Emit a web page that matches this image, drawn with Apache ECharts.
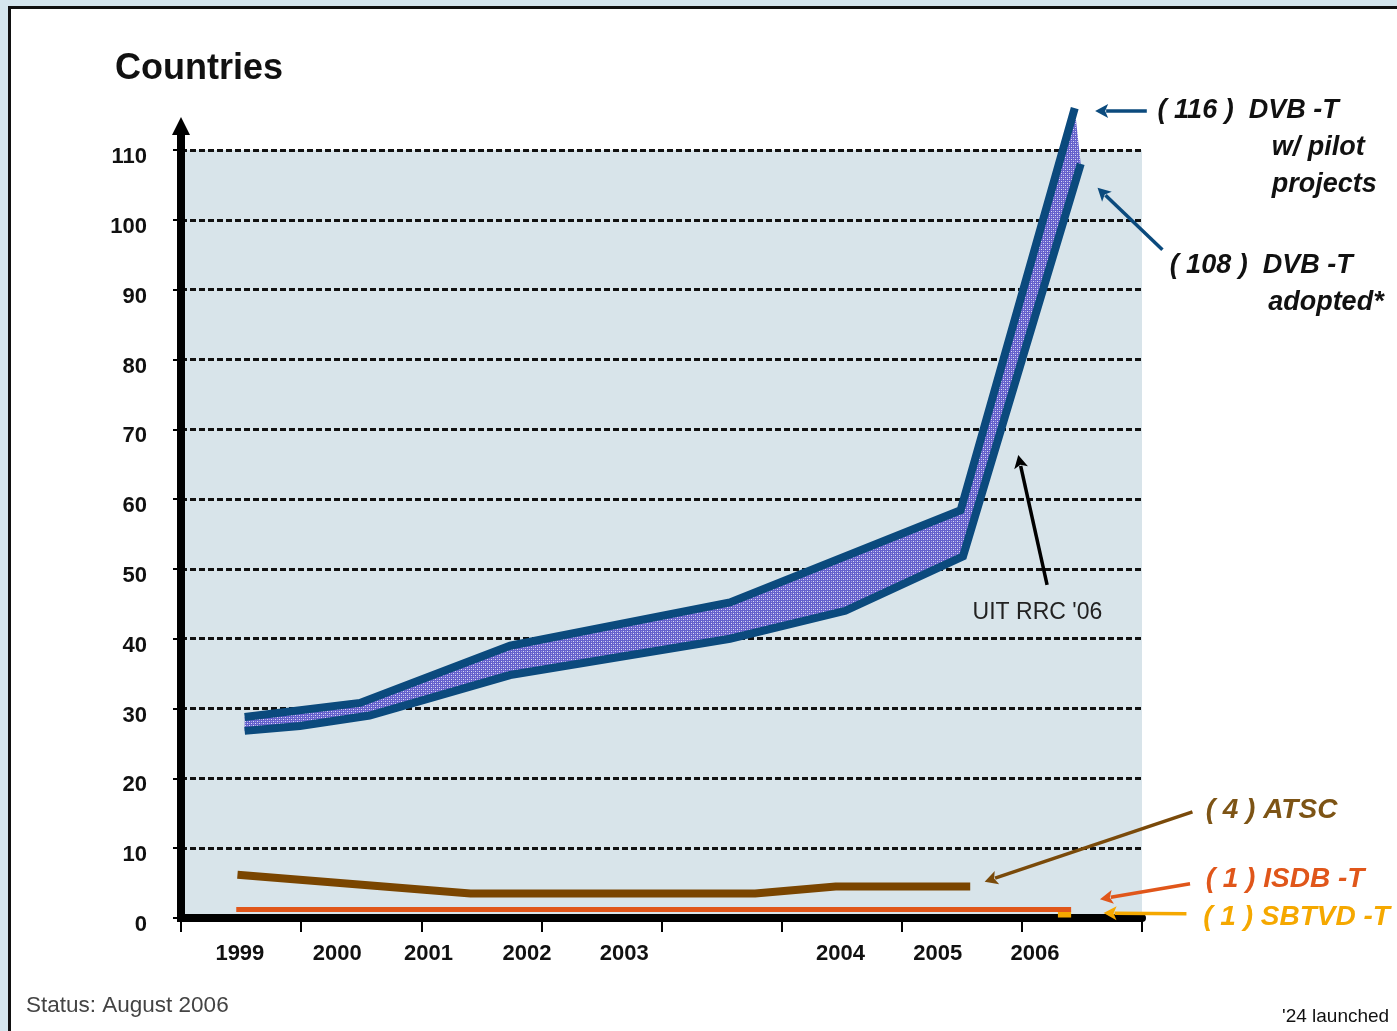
<!DOCTYPE html>
<html><head><meta charset="utf-8">
<script src="https://cdn.jsdelivr.net/npm/echarts@6/dist/echarts.min.js"></script>
<style>
html,body{margin:0;padding:0;background:#d5e6ee;width:1397px;height:1031px;overflow:hidden;}
#frame{position:absolute;left:8px;top:6px;width:1500px;height:1100px;background:#fff;border:3px solid #111;}
#main{position:absolute;left:0;top:0;width:1397px;height:1031px;}
</style></head><body>
<div id="frame"></div><div id="main"></div>
<script>
// ---- data (x in period slots along the axis, y in number of countries) ----
const yearLabels = ['1999','2000','2001','2002','2003','2004','2005','2006'];
const yearPos    = [0.49, 1.30, 2.06, 2.88, 3.69, 5.49, 6.30, 7.11];
const yMin = 0, yMax = 110, yStep = 10;
const xMin = 0, xMax = 8, xStep = 1;

const dvbPilotX   = [0.53, 1.49, 2.74, 4.57, 6.49, 7.44];
const dvbPilotY   = [28.8, 30.8, 39.0, 45.2, 58.4, 116];
const dvbAdoptedX = [0.53, 0.99, 1.57, 2.74, 4.57, 5.53, 6.51, 7.49];
const dvbAdoptedY = [26.8, 27.5, 29.0, 34.8, 40.0, 44.0, 51.8, 108];
const atscX  = [0.47, 2.41, 4.78, 5.45, 6.57];
const atscY  = [6.2, 3.5, 3.5, 4.5, 4.5];
const isdbX  = [0.46, 7.41];
const isdbY  = [1.2, 1.2];
const sbtvdX = [7.30, 7.41];
const sbtvdY = [0.5, 0.5];

// annotation anchors (data units)
const annoArrows = [
  {from:[8.04,115.6], to:[7.61,115.6], color:'#0b4a7d'},
  {from:[8.17,95.7],  to:[7.63,104.6], color:'#0b4a7d'},
  {from:[7.21,47.7],  to:[6.97,66.3],  color:'#000000'},
  {from:[8.42,15.2],  to:[6.69,5.2],   color:'#7a4a0a'},
  {from:[8.40,4.9],   to:[7.65,2.7],   color:'#e0561a'},
  {from:[8.37,0.6],   to:[7.68,0.7],   color:'#f5a800'}
];
const annoTexts = [
  {text:'( 116 )  DVB -T',  at:[8.13,115.6], color:'#111', size:27, bold:true, italic:true},
  {text:'w/ pilot',         at:[9.08,110.3], color:'#111', size:27, bold:true, italic:true},
  {text:'projects',         at:[9.08,105.1], color:'#111', size:27, bold:true, italic:true},
  {text:'( 108 )  DVB -T',  at:[8.23,93.4],  color:'#111', size:27, bold:true, italic:true},
  {text:'adopted*',         at:[9.05,88.2],  color:'#111', size:27, bold:true, italic:true},
  {text:"UIT RRC '06",      at:[6.59,43.7],  color:'#222', size:23, bold:false, italic:false},
  {text:'( 4 ) ATSC',       at:[8.53,15.5],  color:'#7d5415', size:28, bold:true, italic:true},
  {text:'( 1 ) ISDB -T',    at:[8.53,5.6],   color:'#e0561a', size:28, bold:true, italic:true},
  {text:'( 1 ) SBTVD -T',   at:[8.51,0.14],  color:'#f5a800', size:28, bold:true, italic:true}
];

const FONT = '"Liberation Sans", Arial, sans-serif';
const zip = (xs, ys) => xs.map((x, i) => [x, ys[i]]);

// hatched fill pattern
const pc = document.createElement('canvas');
pc.width = 4; pc.height = 4;
const pctx = pc.getContext('2d');
pctx.fillStyle = '#6560cc'; pctx.fillRect(0,0,4,4);
pctx.fillStyle = '#dcdcf6'; pctx.fillRect(1,1,1,1); pctx.fillRect(3,3,1,1);
pctx.fillStyle = '#a3a1e2'; pctx.fillRect(3,1,1,1); pctx.fillRect(1,3,1,1);
const hatch = {image: pc, repeat: 'repeat'};

const chart = echarts.init(document.getElementById('main'), null, {renderer:'canvas'});
const lineBase = {type:'line', showSymbol:false, symbol:'none', clip:false, animation:false, silent:true};

chart.setOption({
  animation:false,
  title:{text:'Countries', left:115, top:51, padding:0,
    textStyle:{fontFamily:FONT, fontSize:36, fontWeight:'bold', color:'#111'}},
  grid:{left:181, right:255, top:150, bottom:113, show:true, backgroundColor:'#d8e4ea', borderWidth:0},
  xAxis:{type:'value', min:xMin, max:xMax, interval:xStep,
    axisLine:{show:true, lineStyle:{color:'#000', width:8}},
    axisTick:{show:true, length:14, lineStyle:{color:'#000', width:2}},
    axisLabel:{show:true, customValues:yearPos, margin:25,
      formatter:function(v){ let b=0; for(let i=1;i<yearPos.length;i++){ if(Math.abs(yearPos[i]-v)<Math.abs(yearPos[b]-v)) b=i; } return yearLabels[b]; },
      fontFamily:FONT, fontSize:22, fontWeight:'bold', color:'#111'},
    splitLine:{show:false}},
  yAxis:{type:'value', min:yMin, max:yMax, interval:yStep, offset:4,
    axisLine:{show:true, symbol:['none','path://M9,0 L18,18 L13,18 L13,36 L5,36 L5,18 L0,18 Z'],
      symbolSize:[18,36], symbolOffset:[0,15], lineStyle:{color:'#000', width:8, cap:'square'}},
    axisTick:{show:true, length:8, lineStyle:{color:'#000', width:2}},
    axisLabel:{margin:30, fontFamily:FONT, fontSize:22, fontWeight:'bold', color:'#111',
      verticalAlign:'top', lineHeight:14},
    splitLine:{show:true, lineStyle:{color:'#111', width:3, type:[6,3]}}},
  series:[
    {type:'custom', clip:false, silent:true, animation:false, z:2,
      data:[[0,0]],
      renderItem:function(params, api){
        if (params.dataIndex !== 0) return null;
        const pts = [];
        for (let i=0;i<dvbPilotX.length;i++) pts.push(api.coord([dvbPilotX[i], dvbPilotY[i]]));
        for (let i=dvbAdoptedX.length-1;i>=0;i--) pts.push(api.coord([dvbAdoptedX[i], dvbAdoptedY[i]]));
        return {type:'polygon', shape:{points:pts}, style:{fill:hatch, stroke:null}};
      }},
    Object.assign({}, lineBase, {name:'DVB-T w/ pilot projects', z:3, data:zip(dvbPilotX, dvbPilotY),
      lineStyle:{color:'#0b4a7d', width:8, join:'miter'}}),
    Object.assign({}, lineBase, {name:'DVB-T adopted', z:3, data:zip(dvbAdoptedX, dvbAdoptedY),
      lineStyle:{color:'#0b4a7d', width:8, join:'miter'}}),
    Object.assign({}, lineBase, {name:'ATSC', z:3, data:zip(atscX, atscY),
      lineStyle:{color:'#7a4500', width:8, join:'miter'}}),
    Object.assign({}, lineBase, {name:'SBTVD-T', z:3, data:zip(sbtvdX, sbtvdY),
      lineStyle:{color:'#f5a800', width:6}}),
    Object.assign({}, lineBase, {name:'ISDB-T', z:4, data:zip(isdbX, isdbY),
      lineStyle:{color:'#e0561a', width:5}})
  ]
});

// annotations positioned through the axes' scales
const toPx = p => chart.convertToPixel({gridIndex:0}, p);
const graphics = [];
annoArrows.forEach(a => {
  const f = toPx(a.from), t = toPx(a.to);
  const dx = t[0]-f[0], dy = t[1]-f[1], L = Math.sqrt(dx*dx+dy*dy);
  const ux = dx/L, uy = dy/L, hl = 13, hw = 7;
  const bx = t[0]-ux*hl, by = t[1]-uy*hl;
  graphics.push({type:'line', silent:true, z:10, shape:{x1:f[0], y1:f[1], x2:bx+ux*2, y2:by+uy*2},
    style:{stroke:a.color, lineWidth:3.5}});
  graphics.push({type:'polygon', silent:true, z:10,
    shape:{points:[[t[0],t[1]],[bx-uy*hw, by+ux*hw],[bx+ux*3, by+uy*3],[bx+uy*hw, by-ux*hw]]},
    style:{fill:a.color}});
});
annoTexts.forEach(t => {
  const p = toPx(t.at);
  graphics.push({type:'text', silent:true, z:10, x:p[0], y:p[1],
    style:{text:t.text, fill:t.color, align:'left', verticalAlign:'middle',
      font:(t.italic?'italic ':'')+(t.bold?'bold ':'')+t.size+'px '+FONT}});
});
graphics.push({type:'text', silent:true, z:10, x:26, y:1006,
  style:{text:'Status: August 2006', fill:'#444', align:'left', verticalAlign:'middle', font:'22.5px '+FONT}});
graphics.push({type:'text', silent:true, z:10, x:1282, y:1017,
  style:{text:"'24 launched", fill:'#111', align:'left', verticalAlign:'middle', font:'19px '+FONT}});
chart.setOption({graphic:graphics});
</script>
</body></html>
